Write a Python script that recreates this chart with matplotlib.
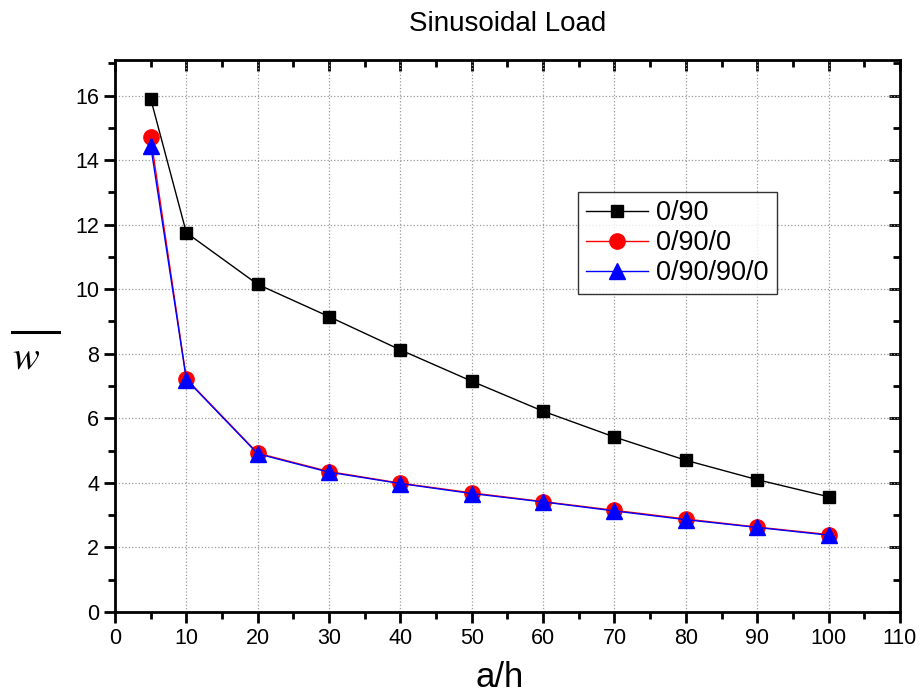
import matplotlib
matplotlib.use("Agg")
import matplotlib.pyplot as plt
from matplotlib.lines import Line2D
from matplotlib.ticker import MultipleLocator

# data
ah = [5, 10, 20, 30, 40, 50, 60, 70, 80, 90, 100]
w_0_90 = [15.9, 11.75, 10.15, 9.15, 8.12, 7.15, 6.22, 5.42, 4.70, 4.10, 3.57]
w_0_90_0 = [14.72, 7.22, 4.92, 4.35, 3.99, 3.69, 3.42, 3.15, 2.88, 2.63, 2.40]
w_0_90_90_0 = [14.45, 7.20, 4.90, 4.33, 3.98, 3.67, 3.41, 3.13, 2.86, 2.62, 2.38]

plt.rcParams['font.family'] = ['Liberation Sans', 'DejaVu Sans']
plt.rcParams['mathtext.fontset'] = 'stix'

fig = plt.figure(figsize=(9.23, 6.98), dpi=100)
ax = fig.add_axes([0.1246, 0.1232, 0.8504, 0.7908])

ax.plot(ah, w_0_90, color='black', lw=1, marker='s', ms=9, label='0/90')
ax.plot(ah, w_0_90_0, color='red', lw=1, marker='o', ms=11, label='0/90/0')
ax.plot(ah, w_0_90_90_0, color='blue', lw=1, marker='^', ms=12, label='0/90/90/0')

ax.set_xlim(0, 110)
ax.set_ylim(0, 17.1)
ax.xaxis.set_major_locator(MultipleLocator(10))
ax.xaxis.set_minor_locator(MultipleLocator(5))
ax.yaxis.set_major_locator(MultipleLocator(2))
ax.yaxis.set_minor_locator(MultipleLocator(1))

ax.grid(True, which='major', ls=':', color='#999999', lw=0.9)
for s in ax.spines.values():
    s.set_linewidth(2)

ax.tick_params(which='both', direction='out', width=2, labelsize=15.5)
ax.tick_params(which='major', length=8)
ax.tick_params(which='minor', length=5)

# inward ticks on top and right, no labels
axt = ax.secondary_xaxis('top')
axt.xaxis.set_major_locator(MultipleLocator(10))
axt.xaxis.set_minor_locator(MultipleLocator(5))
axt.tick_params(which='both', direction='in', width=2, labeltop=False)
axt.tick_params(which='major', length=8)
axt.tick_params(which='minor', length=5)
axt.spines['top'].set_visible(False)
axr = ax.secondary_yaxis('right')
axr.yaxis.set_major_locator(MultipleLocator(2))
axr.yaxis.set_minor_locator(MultipleLocator(1))
axr.tick_params(which='both', direction='in', width=2, labelright=False)
axr.tick_params(which='major', length=8)
axr.tick_params(which='minor', length=5)
axr.spines['right'].set_visible(False)

ax.set_xlabel('a/h', fontsize=25)
ax.xaxis.set_label_coords(0.49, -0.088)

# y label: w with an overbar
fig.text(0.0282, 0.488, r'$w$', fontsize=29, ha='center', va='center')
fig.add_artist(Line2D([0.013, 0.064], [0.525, 0.525], color='black', lw=2.2,
                      transform=fig.transFigure))

fig.text(0.550, 0.966, 'Sinusoidal Load', fontsize=20, ha='center', va='center')

leg = ax.legend(loc='upper left', bbox_to_anchor=(0.5898, 0.761), fontsize=19.5,
                frameon=True, fancybox=False, edgecolor='black',
                handlelength=2.3, borderpad=0.3, labelspacing=0.15,
                handletextpad=0.3, borderaxespad=0)
leg.get_frame().set_linewidth(1)

fig.savefig('out.png', dpi=100)
